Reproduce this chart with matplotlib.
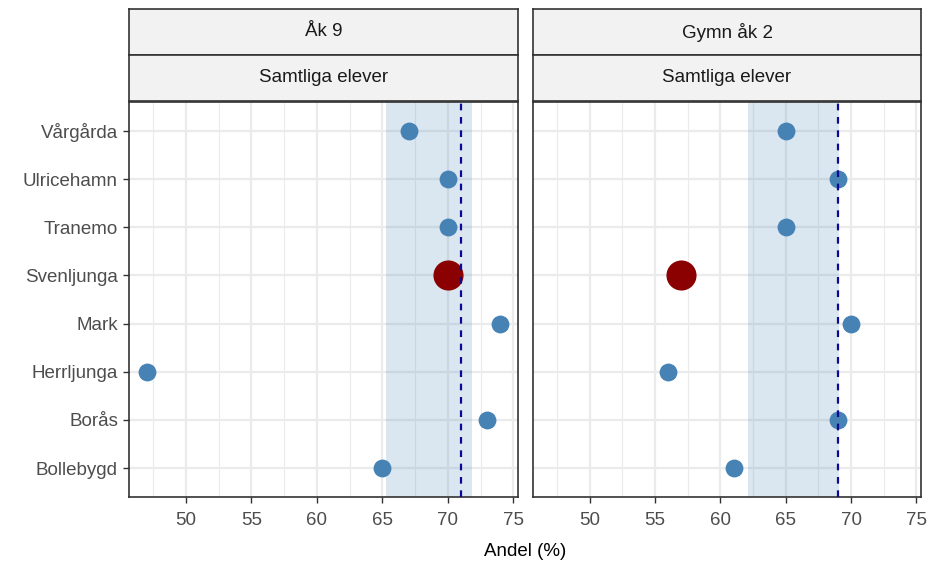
import matplotlib
matplotlib.use("Agg")
import matplotlib.pyplot as plt
import numpy as np

plt.rcParams['font.family'] = ['Liberation Sans', 'DejaVu Sans']

# Kommuner (uppifrån och ned)
kommuner = ["Vårgårda", "Ulricehamn", "Tranemo", "Svenljunga", "Mark",
            "Herrljunga", "Borås", "Bollebygd"]
fokus = "Svenljunga"

paneler = ["Åk 9", "Gymn åk 2"]
undergrupp = "Samtliga elever"

# Andel (%) per kommun och panel
andel_ak9 = [67, 70, 70, 70, 74, 47, 73, 65]
andel_gy2 = [65, 69, 65, 57, 70, 56, 69, 61]

# Referensvärde (streckad linje) och intervall (band)
ref_varde = [71.0, 69.0]
band_lo = [65.3, 62.1]
band_hi = [71.8, 69.1]

xticks = [50, 55, 60, 65, 70, 75]

W, H = 931, 563
fig = plt.figure(figsize=(W / 100, H / 100), dpi=100)

farg_punkt = "#4682B4"
farg_fokus = "#8B0000"
farg_ram = "#333333"
farg_text = "#4D4D4D"
fs = 13.5

alla = andel_ak9 + andel_gy2
spann = max(alla) - min(alla)
xlim = (min(alla) - 0.05 * spann, max(alla) + 0.05 * spann)

panel_x = [(129, 518), (533, 921)]
panel_top, panel_bot = 102, 497
strip1 = (9, 55)
strip2 = (55, 101)

def fx(px):
    return px / W

def fy(py):
    return 1 - py / H

data = [andel_ak9, andel_gy2]
n = len(kommuner)
ypos = np.arange(n)[::-1]

for i, (x0, x1) in enumerate(panel_x):
    ax = fig.add_axes([fx(x0), fy(panel_bot), fx(x1 - x0), (panel_bot - panel_top) / H])
    ax.set_xlim(*xlim)
    ax.set_ylim(-0.6, n - 0.4)

    # rutnät
    for v in np.arange(47.5, 76, 5):
        ax.axvline(v, color="#EBEBEB", lw=0.8, zorder=0)
    for v in xticks:
        ax.axvline(v, color="#EBEBEB", lw=1.6, zorder=0)
    for y in ypos:
        ax.axhline(y, color="#EBEBEB", lw=1.6, zorder=0)

    ax.axvspan(band_lo[i], band_hi[i], color=farg_punkt, alpha=0.2, lw=0, zorder=1)

    vals = data[i]
    vanliga = [k != fokus for k in kommuner]
    ax.scatter([v for v, m in zip(vals, vanliga) if m],
               [y for y, m in zip(ypos, vanliga) if m],
               s=165, color=farg_punkt, lw=0, zorder=3)
    ax.scatter([v for v, m in zip(vals, vanliga) if not m],
               [y for y, m in zip(ypos, vanliga) if not m],
               s=470, color=farg_fokus, lw=0, zorder=4)

    ax.axvline(ref_varde[i], color="#0A0A96", lw=1.6, ls=(0, (3, 3)), zorder=5)

    ax.set_xticks(xticks)
    ax.set_xticklabels([str(t) for t in xticks])
    ax.tick_params(axis="x", length=4, width=1, color=farg_ram, labelsize=fs,
                   labelcolor=farg_text, pad=7)
    ax.set_yticks(ypos)
    if i == 0:
        ax.set_yticklabels(kommuner)
        ax.tick_params(axis="y", length=4, width=1, color=farg_ram, labelsize=fs,
                       labelcolor=farg_text, pad=4)
    else:
        ax.set_yticklabels([])
        ax.tick_params(axis="y", length=0)
    for sp in ax.spines.values():
        sp.set_color(farg_ram)
        sp.set_linewidth(1.2)

    # rubrikremsor
    for (s0, s1), txt in [(strip1, paneler[i]), (strip2, undergrupp)]:
        sax = fig.add_axes([fx(x0), fy(s1), fx(x1 - x0), (s1 - s0) / H])
        sax.set_facecolor("#F2F2F2")
        sax.set_xticks([])
        sax.set_yticks([])
        for sp in sax.spines.values():
            sp.set_color(farg_ram)
            sp.set_linewidth(1.2)
        sax.text(0.5, 0.5, txt, ha="center", va="center", fontsize=fs,
                 color="#1A1A1A", transform=sax.transAxes)

fig.text(fx((129 + 921) / 2), fy(551), "Andel (%)", ha="center", va="center",
         fontsize=fs, color="black")

fig.savefig("out.png", dpi=100, facecolor="white")
